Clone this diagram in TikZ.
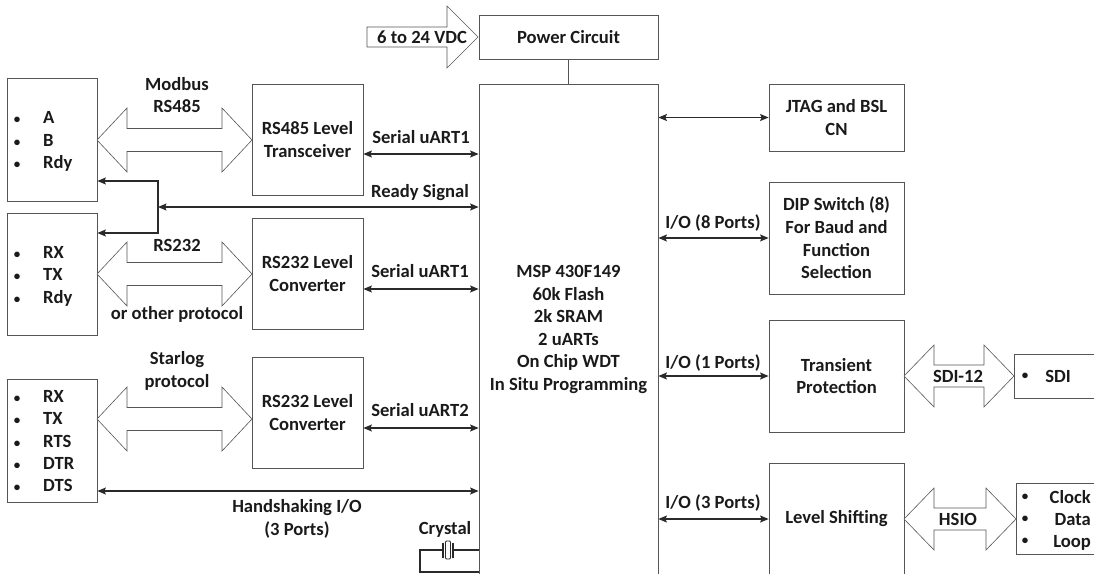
\documentclass[tikz,border=0pt]{standalone}
\usepackage{fontspec}
\setmainfont{Carlito}
\usetikzlibrary{arrows.meta,calc}
\definecolor{ln}{HTML}{555555}
\definecolor{cn}{HTML}{2A2A2A}
\definecolor{tx}{HTML}{1A1A1A}
\newcommand{\fatarr}[5]{%
  \draw[fat] (#1,#3) -- (#1+30,#3-#4) -- (#1+30,#3-#5) -- (#2-30,#3-#5) -- (#2-30,#3-#4) -- (#2,#3)
     -- (#2-30,#3+#4) -- (#2-30,#3+#5) -- (#1+30,#3+#5) -- (#1+30,#3+#4) -- cycle;}
\newcommand{\bul}{{\fontsize{13}{13}\selectfont\textbullet}}
\begin{document}
\begin{tikzpicture}[x=1pt,y=-1pt,
  font=\fontsize{18.6}{22.6}\selectfont\bfseries, text=tx,
  box/.style={draw=ln, line width=0.8pt, align=center, inner sep=0pt},
  conn/.style={draw=cn, line width=1.1pt, {Stealth[length=8.5pt,width=7pt,inset=1.5pt]}-{Stealth[length=8.5pt,width=7pt,inset=1.5pt]}},
  plain/.style={draw=cn, line width=1.1pt},
  fat/.style={draw=ln, line width=0.6pt, fill=white},
  lbl/.style={inner sep=0pt, align=center},
  one/.style={inner sep=0pt, text height=12pt, text depth=0pt},
  dot/.style={inner sep=0pt},
  itm/.style={inner sep=0pt, anchor=base west}]
\useasboundingbox (0,0) rectangle (1094,573);
\clip (0,0) rectangle (1094,573);

% power
\draw[fat] (367,27) -- (447,27) -- (447,6) -- (478,37) -- (447,68) -- (447,47) -- (367,47) -- cycle;
\node[one] (vdc) at (422,37) {6 to 24 VDC};
\node[box, minimum width=179pt, minimum height=44pt] (pwr) at (568.5,37) {Power Circuit};
\node[box, minimum width=179pt, minimum height=491pt] (mcu) at (568.5,329.5)
  {MSP 430F149\\60k Flash\\2k SRAM\\2 uARTs\\On Chip WDT\\In Situ Programming};
\draw[plain, line width=0.8pt, draw=ln] (pwr.south) -- (mcu.north);

% middle boxes
\node[box, minimum width=111pt, minimum height=111pt] (t485) at (307.5,139.5) {RS485 Level\\Transceiver};
\node[box, minimum width=111pt, minimum height=111pt] (c1) at (307.5,273.5) {RS232 Level\\Converter};
\node[box, minimum width=111pt, minimum height=111pt] (c2) at (307.5,412.5) {RS232 Level\\Converter};

% left boxes
\node[box, minimum width=90pt, minimum height=123pt] (p1) at (52,139.5) {};
\node[box, minimum width=90pt, minimum height=122pt] (p2) at (52,274) {};
\node[box, minimum width=90pt, minimum height=123pt] (p3) at (52,440.5) {};
\foreach \t/\b [count=\i] in {A/123,B/146,Rdy/168}
  \node[itm] (pa\i) at (12,\b) {\makebox[10pt]{\bul}\hspace{21pt}\t};
\foreach \t/\b [count=\i] in {RX/258,TX/280,Rdy/303}
  \node[itm] (pb\i) at (12,\b) {\makebox[10pt]{\bul}\hspace{21pt}\t};
\foreach \t/\b [count=\i] in {RX/402,TX/424,RTS/447,DTR/469,DTS/491}
  \node[itm] (pc\i) at (12,\b) {\makebox[10pt]{\bul}\hspace{21pt}\t};

% fat arrows left
\fatarr{97}{252}{140}{32}{11.5}
\fatarr{97}{252}{274}{32}{11.5}
\fatarr{97}{252}{419}{32}{11.5}
\node[lbl] (lmod) at (177,95) {Modbus\\RS485};
\node[one] (l232) at (177,245) {RS232};
\node[one] (loth) at (177,313) {or other protocol};
\node[lbl] (lsta) at (177,371) {Starlog\\protocol};

% connectors left
\draw[conn] (t485.east |- 0,154) -- (mcu.west |- 0,154);
\node[one] (lu1) at (421,137) {Serial uART1};
\coordinate (rj) at (158,207);
\draw[conn] (rj) -- (mcu.west |- rj);
\draw[conn] (p1.east |- 0,181) -- (rj |- 0,181) -- (rj |- 0,233) -- (p2.east |- 0,233);
\node[one] (lrdy) at (420,191) {Ready Signal};
\draw[conn] (c1.east |- 0,289) -- (mcu.west |- 0,289);
\node[one] (lu2) at (420,271) {Serial uART1};
\draw[conn] (c2.east |- 0,428) -- (mcu.west |- 0,428);
\node[one] (lu3) at (420,410) {Serial uART2};
\draw[conn] (p3.east |- 0,491) -- (mcu.west |- 0,491);
\node[lbl] (lhs) at (297,519) {Handshaking I/O\\(3 Ports)};

% crystal
\node[one] (lcry) at (445,528) {Crystal};
\draw[plain] (443,550) -- (420,550) -- (420,572) -- (mcu.west |- 0,572);
\draw[plain] (453,550) -- (mcu.west |- 0,550);
\draw[plain, line width=1.4pt] (443,542.5) -- (443,557.5) (453,542.5) -- (453,557.5);
\draw[draw=cn, line width=0.9pt, rounded corners=1pt] (445.5,541) rectangle (450.5,559);

% right boxes
\node[box, minimum width=135pt, minimum height=67pt] (jtag) at (836.5,117.5) {JTAG and BSL\\CN};
\node[box, minimum width=135pt, minimum height=112pt] (dip) at (836.5,238) {DIP Switch (8)\\For Baud and\\Function\\Selection};
\node[box, minimum width=135pt, minimum height=112pt] (trn) at (836.5,376) {Transient\\Protection};
\node[box, minimum width=135pt, minimum height=112pt] (lvl) at (836.5,519) {Level Shifting};
\draw[conn] (mcu.east |- jtag) -- (jtag.west);
\draw[conn] (mcu.east |- dip) -- (dip.west);
\node[one] (li8) at (713,222) {I/O (8 Ports)};
\draw[conn] (mcu.east |- trn) -- (trn.west);
\node[one] (li1) at (713,362) {I/O (1 Ports)};
\draw[conn] (mcu.east |- lvl) -- (lvl.west);
\node[one] (li3) at (713,502) {I/O (3 Ports)};

% far right
\fatarr{904}{1014}{376}{31}{11}
\fatarr{904}{1016}{519}{31}{11}
\node[one] (lsdi) at (958,376) {SDI-12};
\node[one] (lhsio) at (958,519) {HSIO};
\node[box, minimum width=96pt, minimum height=44pt] (sdi) at (1062,376) {};
\node[box, minimum width=94pt, minimum height=71pt] (clk) at (1063,518.5) {};
\node[dot] (sb) at (1025,376) {\bul};
\node[one] (st) at (1058,376) {SDI};
\foreach \t/\y [count=\i] in {Clock/497,Data/519,Loop/541}{
  \node[dot] (cb\i) at (1025,\y) {\bul};
  \node[one, anchor=east] (ct\i) at (1091,\y) {\t};
}
\end{tikzpicture}
\end{document}
